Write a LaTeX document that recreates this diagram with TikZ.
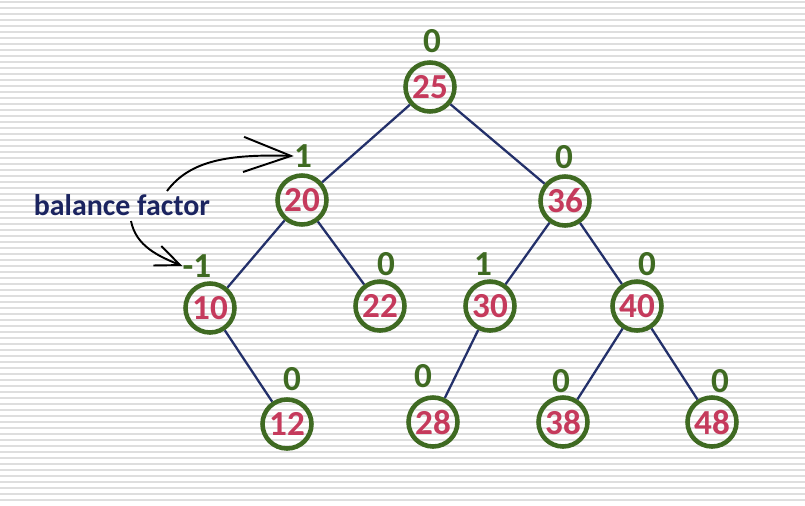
\documentclass[tikz,border=0pt]{standalone}
\usepackage{fontspec}
\setmainfont{Carlito}
\usetikzlibrary{arrows.meta}
\definecolor{ringgreen}{HTML}{3F6A22}
\definecolor{keyred}{HTML}{C53A5C}
\definecolor{edgeblue}{HTML}{23306A}
\definecolor{notenavy}{HTML}{1B2460}
\tikzset{
  tnode/.style={
    circle,
    minimum size=0.98cm,
    inner sep=0pt,
    line width=2.6pt,
    draw=ringgreen,
    text=keyred,
    font=\fontsize{20}{20}\selectfont\bfseries
    },
  bal/.style={
    inner sep=0pt,
    text=ringgreen,
    font=\fontsize{20}{20}\selectfont\bfseries
    },
  note/.style={
    inner sep=0pt,
    text=notenavy,
    font=\fontsize{17}{17}\selectfont\bfseries
    },
  edge/.style={draw=edgeblue, line width=1.3pt},
  pointer/.style={
    black,
    line width=1.1pt
    }
}

\begin{document}
\begin{tikzpicture}[x=0.02cm, y=-0.02cm]
% background
\fill[white] (0,0) rectangle (805,505);
\useasboundingbox (0,0) rectangle (805,505);
\foreach \yy in {2,8,...,505}
  \draw[line width=1.1pt, black!13] (0,\yy) -- (805,\yy);
% keys
\node (n25) [tnode] at (430,87) {25};
\node (n20) [tnode] at (302,200) {20};
\node (n36) [tnode] at (565,201) {36};
\node (n10) [tnode] at (210,308) {10};
\node (n22) [tnode] at (380,306) {22};
\node (n30) [tnode] at (490,306) {30};
\node (n40) [tnode] at (637,306) {40};
\node (n12) [tnode] at (287,424) {12};
\node (n28) [tnode] at (433,422) {28};
\node (n38) [tnode] at (563,422) {38};
\node (n48) [tnode] at (712,422) {48};
% balance factors
\node (b25) [bal] at (432,41) {0};
\node (b20) [bal] at (303,156) {1};
\node (b36) [bal] at (564,157) {0};
\node (b10) [bal] at (197,266) {-1};
\node (b22) [bal] at (386,264) {0};
\node (b30) [bal] at (483,264) {1};
\node (b40) [bal] at (647,264) {0};
\node (b12) [bal] at (292,379) {0};
\node (b28) [bal] at (423,376) {0};
\node (b38) [bal] at (561,381) {0};
\node (b48) [bal] at (720,381) {0};
% edges
\draw[edge] (n25) -- (n20);
\draw[edge] (n25) -- (n36);
\draw[edge] (n20) -- (n10);
\draw[edge] (n20) -- (n22);
\draw[edge] (n36) -- (n30);
\draw[edge] (n36) -- (n40);
\draw[edge] (n10) -- (n12);
\draw[edge] (n30) -- (n28);
\draw[edge] (n40) -- (n38);
\draw[edge] (n40) -- (n48);
% label
\node (bf) [note] at (122,205) {balance factor};
\coordinate (upstart) at (167,191);
\coordinate (downstart) at (131,221);
\draw[pointer, -{Straight Barb[length=27pt,width=20pt,line width=1.1pt]}]
  (upstart) .. controls (190,160) and (230,154) .. (b20.west);
\draw[pointer, -{Straight Barb[length=14pt,width=12pt,line width=1.1pt]}]
  (downstart) .. controls (136,246) and (158,256) .. (b10.west);
\end{tikzpicture}
\end{document}
